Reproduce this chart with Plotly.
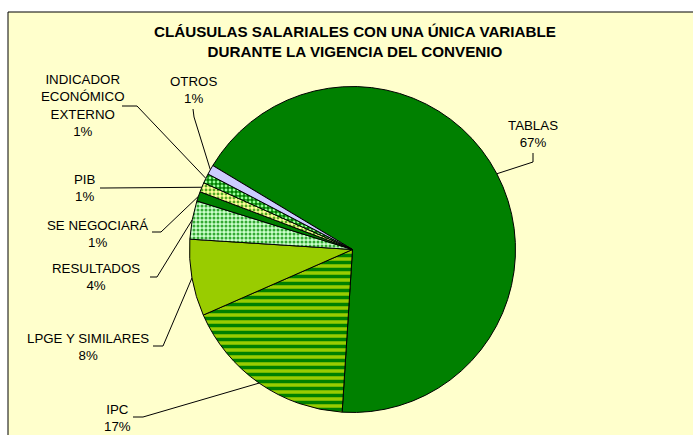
import math
import plotly.graph_objects as go

# ---------------- data ----------------
labels = ["TABLAS", "IPC", "LPGE Y SIMILARES", "RESULTADOS", "SE NEGOCIARÁ",
          "PIB", "INDICADOR<br>ECONÓMICO<br>EXTERNO", "OTROS"]
values = [67.4, 17.4, 7.6, 3.8, 0.95, 0.95, 0.95, 0.95]
title_text = "CLÁUSULAS SALARIALES CON UNA ÚNICA VARIABLE<br>DURANTE LA VIGENCIA DEL CONVENIO"

# ---------------- styles ----------------
colors = ["#008000", "#99CC00", "#99CC00", "#CCFFCC", "#008000", "#FFFF99", "#008000", "#CCCCFF"]
pat_shape = ["", "-", "", ".", "", ".", ".", ""]
pat_fg = ["#008000", "#008000", "#99CC00", "#33AA33", "#008000", "#55AA22", "#99FF99", "#CCCCFF"]
pat_bg = ["#008000", "#99CC00", "#99CC00", "#CCFFCC", "#008000", "#FFFF99", "#008000", "#CCCCFF"]

W, H = 693, 435
CX, CY, R = 352.5, 249.5, 163
ROTATION = 301
FONT = "Arial, Liberation Sans, sans-serif"

# label block centres, leader anchor, elbow (pixel positions)
label_pos = [(533, 133.5), (117, 417.5), (88, 346.5), (96, 276.5),
             (97.5, 233.5), (85, 188), (82, 105), (193, 90.5)]
leader_start = [(533, 153), (133, 417), (153, 346), (150, 277),
                (152, 232), (100, 188), (122, 106), (193, 109)]
leader_elbow = [(533, 162), (143, 417), (163, 346), (157, 277),
                (161, 232), (104, 188), (137, 106), (194, 117)]


def px(x):
    return x / W


def py(y):
    return 1 - y / H


fig = go.Figure()
fig.add_trace(go.Pie(
    labels=labels, values=values, sort=False, direction="clockwise",
    rotation=ROTATION, textinfo="none", hoverinfo="label+percent",
    showlegend=False,
    domain=dict(x=[px(CX - R), px(CX + R)], y=[py(CY + R), py(CY - R)]),
    marker=dict(colors=colors, line=dict(color="#000000", width=1),
                pattern=dict(shape=pat_shape, fgcolor=pat_fg, bgcolor=pat_bg,
                             size=[7, 7, 7, 4, 7, 4, 4, 7], solidity=[0.5, 0.5, 0.5, 0.45, 0.5, 0.4, 0.4, 0.5],
                             fillmode="replace")),
))

total = sum(values)
shapes = [dict(type="rect", xref="paper", yref="paper", x0=px(8), x1=1.02,
               y0=-0.02, y1=py(12), fillcolor="#FFFFCC",
               line=dict(color="#000000", width=1), layer="below")]
annotations = []
cum = 0.0
for i, (lab, v) in enumerate(zip(labels, values)):
    mid = ROTATION + (cum + v / 2) / total * 360
    cum += v
    a = math.radians(mid)
    ex, ey = CX + R * math.sin(a), CY - R * math.cos(a)
    sx, sy = leader_start[i]
    bx, by = leader_elbow[i]
    path = f"M {px(sx)},{py(sy)} L {px(bx)},{py(by)} L {px(ex)},{py(ey)}"
    shapes.append(dict(type="path", xref="paper", yref="paper", path=path,
                       line=dict(color="#000000", width=1), layer="above"))
    pct = f"{round(v / total * 100)}%"
    lx, ly = label_pos[i]
    annotations.append(dict(x=px(lx), y=py(ly), xref="paper", yref="paper",
                            text=f"{lab}<br>{pct}", showarrow=False,
                            xanchor="center", yanchor="middle", align="center",
                            font=dict(family=FONT, size=13.3, color="#000000")))

annotations.append(dict(x=px(354.5), y=py(42), xref="paper", yref="paper",
                        text=f"<b>{title_text}</b>", showarrow=False,
                        xanchor="center", yanchor="middle", align="center",
                        font=dict(family=FONT, size=15.2, color="#000000")))

fig.update_layout(width=W, height=H, margin=dict(l=0, r=0, t=0, b=0),
                  paper_bgcolor="#FFFFFF", shapes=shapes, annotations=annotations)

fig.write_html("out.html", config={"displayModeBar": False},
               post_script="document.body.style.margin='0';document.body.style.padding='0';"
                           "document.body.style.overflow='hidden';")
